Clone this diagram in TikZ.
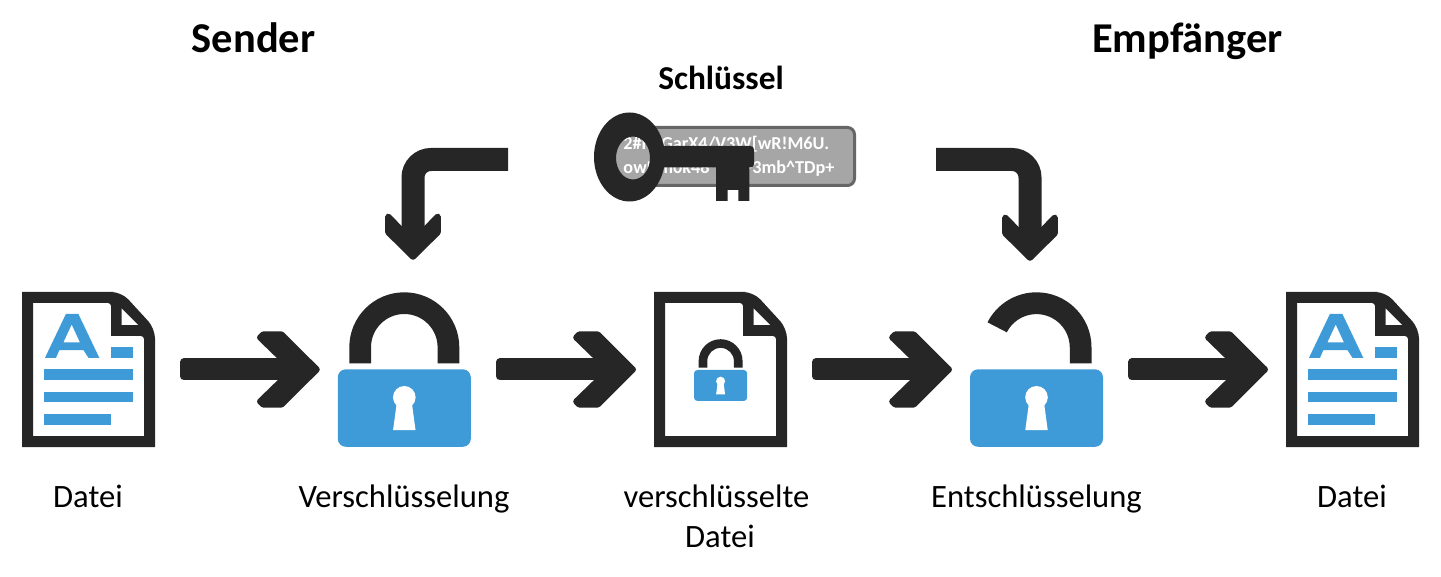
\documentclass[tikz,border=0pt]{standalone}
\usepackage{fontspec}
\setmainfont{Carlito}
\usetikzlibrary{arrows.meta}
\definecolor{inkdark}{HTML}{262626}
\definecolor{iconblue}{HTML}{3F9BD7}
\definecolor{keygray}{HTML}{A6A6A6}
\definecolor{keyedge}{HTML}{666666}
\pgfdeclarearrow{name=ChevBig,
  setup code={\pgfarrowssettipend{0pt}\pgfarrowssetlineend{-25pt}\pgfarrowssetvisualbackend{-64pt}},
  drawing code={\pgfsetlinewidth{6pt}\pgfsetroundjoin\pgfsetmiterlimit{1}%
    \pgfpathmoveto{\pgfqpoint{-26.8pt}{0pt}}%
    \pgfpathlineto{\pgfqpoint{-59.8pt}{32pt}}\pgfpathlineto{\pgfqpoint{-56.8pt}{35pt}}%
    \pgfpathlineto{\pgfqpoint{-38.2pt}{35pt}}\pgfpathlineto{\pgfqpoint{-3pt}{0pt}}%
    \pgfpathlineto{\pgfqpoint{-38.2pt}{-35pt}}\pgfpathlineto{\pgfqpoint{-56.8pt}{-35pt}}%
    \pgfpathlineto{\pgfqpoint{-59.8pt}{-32pt}}\pgfpathclose\pgfusepathqfillstroke}}
\pgfdeclarearrow{name=ChevSmall,
  setup code={\pgfarrowssettipend{0pt}\pgfarrowssetlineend{-20pt}\pgfarrowssetvisualbackend{-48pt}},
  drawing code={\pgfsetlinewidth{6pt}\pgfsetroundjoin%
    \pgfpathmoveto{\pgfqpoint{-19pt}{0pt}}%
    \pgfpathlineto{\pgfqpoint{-44.5pt}{24.8pt}}%
    \pgfpathlineto{\pgfqpoint{-28.7pt}{24.8pt}}\pgfpathlineto{\pgfqpoint{-4.2pt}{0pt}}%
    \pgfpathlineto{\pgfqpoint{-28.7pt}{-24.8pt}}\pgfpathlineto{\pgfqpoint{-44.5pt}{-24.8pt}}%
    \pgfpathclose\pgfusepathqfillstroke}}
\pgfdeclarearrow{name=SoftStart,
  setup code={\pgfarrowssettipend{0pt}\pgfarrowssetlineend{-4pt}\pgfarrowssetvisualbackend{-8pt}},
  drawing code={\pgfsetlinewidth{8pt}\pgfsetroundjoin%
    \pgfpathmoveto{\pgfqpoint{-8pt}{-7pt}}\pgfpathlineto{\pgfqpoint{-4pt}{-7pt}}%
    \pgfpathlineto{\pgfqpoint{-4pt}{7pt}}\pgfpathlineto{\pgfqpoint{-8pt}{7pt}}\pgfpathclose\pgfusepathqfillstroke}}
\tikzset{
  every pic/.style={yscale=-1},
  slot/.style={inner sep=0pt,outer sep=0pt,minimum width=133pt,minimum height=155pt},
  flowarrow/.style={draw=inkdark,fill=none,color=inkdark,line width=22pt,{SoftStart}-{ChevBig},shorten <=25pt,shorten >=18pt},
  elbowarrow/.style={draw=inkdark,color=inkdark,line width=23pt,-{ChevSmall},rounded corners=18pt},
  title/.style={font=\bfseries\fontsize{42.5}{46}\selectfont,text=black,inner sep=0pt,anchor=base},
  keytitle/.style={font=\bfseries\fontsize{33.4}{36}\selectfont,text=black,inner sep=0pt,anchor=base},
  caption/.style={font=\fontsize{32.6}{40}\selectfont,text=black,inner sep=0pt,align=center,anchor=base},
  pics/sheet/.style={code={
    \fill[inkdark,even odd rule]
      (-66.5,-77.5) -- (25,-77.5) [rounded corners=10pt] -- (33,-77.5) -- (66.5,-41) [sharp corners] -- (66.5,-30) -- (66.5,77.5) -- (-66.5,77.5) -- cycle
      (-55.5,-66.5) -- (17,-66.5) [rounded corners=3pt] -- (22.5,-66.5) [sharp corners] -- (22.5,-33.5) -- (50,-33.5) [rounded corners=3pt] -- (55.5,-33.5) [sharp corners] -- (55.5,66.5) -- (-55.5,66.5) -- cycle;
    \fill[white] (33,-61) -- (49.5,-44.5) -- (33,-44.5) -- cycle;
  }},
  pics/textlines/.style={code={
    \fill[iconblue,even odd rule]
      (-43.5,-11.7) -- (-32.5,-11.7) -- (-29.2,-19.3) -- (-5,-19.3) -- (0,-11.7) -- (10.8,-11.7) -- (-10.2,-55.7) -- (-22.5,-55.7) -- cycle
      (-25.2,-27) -- (-8.5,-27) -- (-16.8,-45) -- cycle;
    \fill[iconblue] (22.2,-22.2) rectangle (44.2,-11.5);
    \fill[iconblue] (-44.5,-0.2) rectangle (44.2,10.8);
    \fill[iconblue] (-44.5,22.2) rectangle (44.2,32.8);
    \fill[iconblue] (-44.5,44.2) rectangle (22.2,55.2);
  }},
  pics/lockbody/.style={code={
    \fill[iconblue,rounded corners=#1] (-66.5,0) rectangle (66.5,77.5);
    \fill[white] (0,28) circle[radius=11.3pt];
    \fill[white] (-7.6,34) -- (7.6,34) -- (11.2,60.7) -- (-11.2,60.7) -- cycle;
  }},
  pics/closedshackle/.style={code={
    \fill[inkdark] (-55,-6) -- (-55,-22) arc[start angle=180,end angle=360,radius=55pt] -- (55,-6) -- (33.3,-6) -- (33.3,-22)
      arc[start angle=360,end angle=180,radius=33.3pt] -- (-33.3,-6) -- cycle;
  }},
  pics/openshackle/.style={code={
    \fill[inkdark] (55,-6) -- (55,-22) arc[start angle=360,end angle=207,radius=55pt]
      -- (-29.7,-37) arc[start angle=207,end angle=360,radius=33.3pt] -- (33.3,-6) -- cycle;
  }},
}
\begin{document}
\begin{tikzpicture}[x=1pt,y=1pt,yscale=-1]
\useasboundingbox (0,0) rectangle (1441,577);
\fill[white] (0,0) rectangle (1441,577);

% icon slots
\node[slot] (docA)  at (88.5,369.5) {};
\node[slot] (lockA) at (404.3,369.5) {};
\node[slot] (docB)  at (720.5,369.5) {};
\node[slot] (lockB) at (1036.5,369.5) {};
\node[slot] (docC)  at (1352.5,369.5) {};

% icons
\pic at (docA) {sheet}; \pic at (docA) {textlines};
\pic at (404.3,369.3) {closedshackle}; \pic at (404.3,369.3) {lockbody=8pt};
\pic at (docB) {sheet};
\pic[scale=.4] at (720.6,370) {closedshackle}; \pic[scale=.4] at (720.6,370) {lockbody=3.5pt};
\pic at (1036.5,369.3) {openshackle}; \pic at (1036.5,369.3) {lockbody=8pt};
\pic at (docC) {sheet}; \pic at (docC) {textlines};

% flow arrows
\draw[flowarrow] (docA) -- (lockA);
\draw[flowarrow] (lockA) -- (docB);
\draw[flowarrow] (docB) -- (lockB);
\draw[flowarrow] (lockB) -- (docC);

% key label box
\node[draw=keyedge,fill=keygray,line width=3pt,rounded corners=7pt,minimum width=251pt,minimum height=58pt,inner sep=0pt,
      text=white,align=left,font=\bfseries\fontsize{18.2}{23.5}\selectfont,anchor=east] (keybox) at (856,156.5)
  {\raisebox{-1pt}{2\#KpGarX4/V3W[wR!M6U.}\\ \raisebox{-1pt}{owDm0k48\^{}hsL>3mb\^{}TDp+}};

% key
\fill[inkdark,even odd rule] (629.5,157) ellipse[x radius=35.5pt,y radius=44.5pt] (633,158) ellipse[x radius=17pt,y radius=21.5pt];
\fill[inkdark,rounded corners=3.5pt] (650,146) rectangle (754,167.5);
\fill[inkdark] (716,165) -- (749.3,165) -- (749.3,201) -- (738.3,201) -- (738.3,190) -- (727.7,190) -- (727.7,201) -- (716,201) -- cycle;

% elbow arrows
\coordinate (inL) at (508,159.5);
\coordinate (tipL) at (413,261);
\coordinate (inR) at (936,159.5);
\coordinate (tipR) at (1030,262);
\draw[elbowarrow] (inL) -| (tipL);
\draw[elbowarrow] (inR) -| (tipR);

% texts
\node[title] (sender) at (253.5,53) {Sender};
\node[title] (empf) at (1187.5,53) {Empfänger};
\node[keytitle] (keyname) at (721,90) {Schlüssel};
\node[caption] (capA) at (88,507) {Datei};
\node[caption] (capB) at (404,507) {Verschlüsselung};
\node[caption] (capC) at (716.5,507) {verschlüsselte};
\node[caption] (capC2) at (720,547) {Datei};
\node[caption] (capD) at (1036.5,507) {Entschlüsselung};
\node[caption] (capE) at (1352,507) {Datei};
\end{tikzpicture}
\end{document}
